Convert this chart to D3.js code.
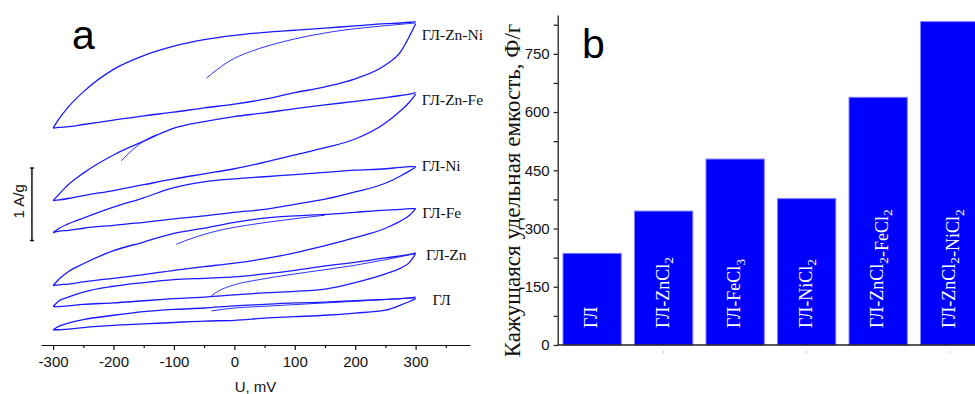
<!DOCTYPE html>
<html><head><meta charset="utf-8">
<script src="https://cdn.jsdelivr.net/npm/d3@7"></script>
<style>body{margin:0;background:#fff}svg{display:block}</style>
</head><body>
<svg id="c" width="975" height="394"></svg>
<script>
// ---------- Panel a: cyclic voltammograms (current in A/g, curves stacked) ----------
const voltage = [-300,-290,-275,-250,-200,-150,-100,-50,0,50,100,150,200,250,275,290,300];
const samples = ["ГЛ-Zn-Ni","ГЛ-Zn-Fe","ГЛ-Ni","ГЛ-Fe","ГЛ-Zn","ГЛ"];
const forwardZnNi = [2.99,3.12,3.28,3.49,3.80,3.99,4.12,4.21,4.27,4.31,4.34,4.37,4.40,4.43,4.44,4.45,4.46];
const reverseZnNi = [2.99,3.00,3.01,3.04,3.10,3.16,3.21,3.27,3.32,3.39,3.48,3.56,3.67,3.86,4.04,4.26,4.43];
const forwardZnFe = [1.99,2.08,2.21,2.37,2.62,2.81,2.99,3.08,3.15,3.20,3.26,3.31,3.36,3.41,3.44,3.46,3.48];
const reverseZnFe = [1.99,2.00,2.02,2.06,2.13,2.21,2.29,2.36,2.43,2.52,2.62,2.72,2.84,3.06,3.23,3.35,3.46];
const forwardNi   = [1.55,1.61,1.67,1.75,1.90,2.03,2.17,2.25,2.29,2.32,2.35,2.38,2.41,2.43,2.45,2.46,2.46];
const reverseNi   = [1.55,1.57,1.58,1.61,1.65,1.69,1.74,1.78,1.83,1.87,1.94,2.01,2.11,2.23,2.33,2.40,2.45];
const forwardFe   = [0.82,0.91,1.01,1.12,1.30,1.42,1.54,1.61,1.69,1.75,1.78,1.80,1.83,1.86,1.87,1.88,1.88];
const reverseFe   = [0.82,0.83,0.84,0.87,0.92,0.97,1.03,1.08,1.13,1.19,1.27,1.37,1.48,1.61,1.71,1.79,1.88];
const forwardZn   = [0.53,0.61,0.66,0.73,0.81,0.86,0.90,0.92,0.94,0.98,1.03,1.09,1.14,1.20,1.23,1.25,1.27];
const reverseZn   = [0.53,0.53,0.54,0.56,0.58,0.61,0.64,0.66,0.69,0.72,0.74,0.77,0.86,0.98,1.06,1.14,1.26];
const forwardGL   = [0.21,0.26,0.30,0.35,0.41,0.46,0.49,0.51,0.54,0.56,0.58,0.59,0.61,0.63,0.64,0.65,0.66];
const reverseGL   = [0.21,0.21,0.22,0.24,0.27,0.29,0.31,0.33,0.34,0.37,0.39,0.41,0.44,0.48,0.55,0.60,0.64];
// first sweep starting from the open-circuit potential
const initVoltageZnNi = [-46,-13,42,80,163,246,300];
const initCurrentZnNi = [3.68,3.89,4.09,4.18,4.32,4.40,4.44];
const initVoltageZnFe = [-187,-170,-150,-129];
const initCurrentZnFe = [2.54,2.68,2.81,2.90];
const initVoltageFe = [-96,-60,-20,20,80,150];
const initCurrentFe = [1.39,1.50,1.59,1.65,1.72,1.79];
const initVoltageZn = [-38,-25,0,40,100,200,300];
const initCurrentZn = [0.68,0.75,0.83,0.90,0.98,1.10,1.26];
const initVoltageGL = [-38,0,42,150,300];
const initCurrentGL = [0.47,0.51,0.53,0.58,0.65];
const labelVoltage = [310,310,310,311,317,328];
const labelCurrent = [4.28,3.39,2.48,1.83,1.25,0.63];
const xTicksMajor = [-300,-200,-100,0,100,200,300];
const xTicksMinor = [-250,-150,-50,50,150,250,350];
const scaleBarVoltage = -335;
const scaleBarCurrent = [1.44,2.44];

// ---------- Panel b: apparent specific capacitance ----------
const categories = ["ГЛ","ГЛ-ZnCl2","ГЛ-FeCl3","ГЛ-NiCl2","ГЛ-ZnCl2-FeCl2","ГЛ-ZnCl2-NiCl2"];
const capacitance = [236,345,479,377,638,833];
const yTicksMajor = [0,150,300,450,600,750];
const yTicksMinor = [75,225,375,525,675,825];

const forward = [forwardZnNi,forwardZnFe,forwardNi,forwardFe,forwardZn,forwardGL];
const reverse = [reverseZnNi,reverseZnFe,reverseNi,reverseFe,reverseZn,reverseGL];
const inits = [[initVoltageZnNi,initCurrentZnNi],[initVoltageZnFe,initCurrentZnFe],null,
               [initVoltageFe,initCurrentFe],[initVoltageZn,initCurrentZn],[initVoltageGL,initCurrentGL]];

const svg = d3.select("#c");
const SANS = "'Liberation Sans', Arial, sans-serif";
const SERIF = "'Liberation Serif', 'Times New Roman', serif";
const BLUE = "#1a1aff";

// ----- panel a -----
const x = d3.scaleLinear().domain([-320,390]).range([41,470]);
const y = d3.scaleLinear().domain([0,4.55]).range([345,15]);
const line = d3.line().x(d=>x(d[0])).y(d=>y(d[1])).curve(d3.curveMonotoneX);
const gA = svg.append("g");

samples.forEach((s,i)=>{
  gA.append("path").attr("d", line(voltage.map((v,k)=>[v,forward[i][k]])))
    .attr("fill","none").attr("stroke",BLUE).attr("stroke-width",1.3);
  gA.append("path").attr("d", line(voltage.map((v,k)=>[v,reverse[i][k]])))
    .attr("fill","none").attr("stroke",BLUE).attr("stroke-width",1.3);
  if(inits[i]){
    gA.append("path").attr("d", line(inits[i][0].map((v,k)=>[v,inits[i][1][k]])))
      .attr("fill","none").attr("stroke",BLUE).attr("stroke-width",0.9);
  }
  gA.append("text").attr("x",x(labelVoltage[i])).attr("y",y(labelCurrent[i]))
    .attr("dy","0.35em").attr("font-family",SERIF).attr("font-size",15.5).attr("fill","#111")
    .text(s);
});

// x axis
const axA = gA.append("g").attr("transform","translate(0,345)");
axA.call(d3.axisBottom(x).tickValues(xTicksMajor).tickSize(5).tickSizeOuter(0).tickPadding(6).tickFormat(d=>String(d)));
axA.append("g").call(d3.axisBottom(x).tickValues(xTicksMinor).tickSize(3).tickSizeOuter(0).tickFormat(""))
  .select(".domain").remove();
axA.selectAll("path,line").attr("stroke","#111").attr("stroke-width",1.2);
axA.selectAll("text").attr("font-family",SANS).attr("font-size",15).attr("fill","#111");
gA.append("text").attr("x",(x.range()[0]+x.range()[1])/2).attr("y",392)
  .attr("text-anchor","middle").attr("font-family",SANS).attr("font-size",15).attr("fill","#111")
  .text("U, mV");

// scale bar
const sbx = x(scaleBarVoltage);
gA.append("line").attr("x1",sbx).attr("x2",sbx).attr("y1",y(scaleBarCurrent[0])).attr("y2",y(scaleBarCurrent[1]))
  .attr("stroke","#111").attr("stroke-width",1.5);
scaleBarCurrent.forEach(c=>{
  gA.append("line").attr("x1",sbx-2).attr("x2",sbx+2).attr("y1",y(c)).attr("y2",y(c))
    .attr("stroke","#111").attr("stroke-width",1.5);
});
const sbMid = (y(scaleBarCurrent[0])+y(scaleBarCurrent[1]))/2 - 3;
gA.append("text").attr("transform",`translate(${sbx-8},${sbMid}) rotate(-90)`)
  .attr("text-anchor","middle").attr("font-family",SANS).attr("font-size",15).attr("fill","#111")
  .text("1 A/g");

gA.append("text").attr("x",72).attr("y",49).attr("font-family",SANS).attr("font-size",41).attr("fill","#000").text("a");

// ----- panel b -----
const y2 = d3.scaleLinear().domain([0,850]).range([345,15]);
const xb = d3.scaleBand().domain(categories).range([557.7,984.1]).paddingInner(0.185).paddingOuter(0.074);
const gB = svg.append("g");

gB.selectAll("rect.bar").data(categories).join("rect").attr("class","bar")
  .attr("x",d=>xb(d)).attr("width",xb.bandwidth())
  .attr("y",(d,i)=>y2(capacitance[i])).attr("height",(d,i)=>y2(0)-y2(capacitance[i]))
  .attr("fill","#0000ff").attr("stroke","#7f7fff").attr("stroke-width",1);

categories.forEach(c=>{
  const cx = xb(c)+xb.bandwidth()/2 + 5;
  const t = gB.append("text").attr("transform",`translate(${cx},328) rotate(-90)`)
    .attr("font-family",SERIF).attr("font-size",18).attr("fill","#fff");
  c.split(/(\d)/).filter(p=>p.length).forEach(p=>{
    if(/\d/.test(p)){
      t.append("tspan").attr("dy",4.5).attr("font-size",13.5).text(p);
      t.append("tspan").attr("dy",-4.5).text("");
    } else {
      t.append("tspan").text(p);
    }
  });
});

// x axis of b
gB.append("line").attr("x1",557.7).attr("x2",975).attr("y1",345).attr("y2",345).attr("stroke","#222").attr("stroke-width",1.3);
categories.forEach((c,i)=>{
  if(i%2===1) gB.append("rect").attr("x",xb(c)+xb.bandwidth()/2-0.5).attr("y",351.5).attr("width",1).attr("height",1).attr("fill","#777");
});

const axB = gB.append("g").attr("transform","translate(557.7,0)");
axB.call(d3.axisLeft(y2).tickValues(yTicksMajor).tickSize(4).tickSizeOuter(0).tickPadding(4).tickFormat(d=>String(d)));
axB.append("g").call(d3.axisLeft(y2).tickValues(yTicksMinor).tickSize(4).tickSizeOuter(0).tickFormat(""))
  .select(".domain").remove();
axB.selectAll("path,line").attr("stroke","#222").attr("stroke-width",1.3);
axB.selectAll("text").attr("font-family",SANS).attr("font-size",15).attr("fill","#111");

gB.append("text").attr("transform",`translate(520,190.5) rotate(-90)`)
  .attr("text-anchor","middle").attr("font-family",SERIF).attr("font-size",23).attr("fill","#111")
  .text("Кажущаяся удельная емкость, Ф/г");

gB.append("text").attr("x",582).attr("y",58).attr("font-family",SANS).attr("font-size",41).attr("fill","#000").text("b");
</script>
</body></html>
